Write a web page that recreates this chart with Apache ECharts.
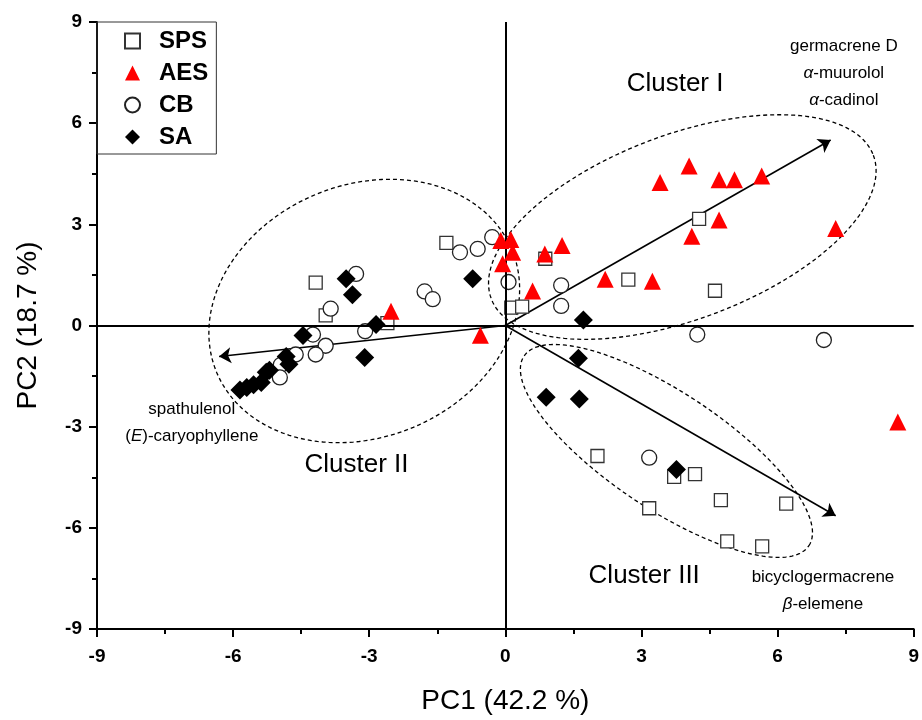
<!DOCTYPE html>
<html>
<head>
<meta charset="utf-8">
<script src="https://cdn.jsdelivr.net/npm/echarts@6/dist/echarts.min.js"></script>
<style>html,body{margin:0;padding:0;background:#fff}#main{width:922px;height:720px}</style>
</head>
<body>
<div id="main"></div>
<script>
let sps = [[-1.30,2.45],[-4.18,1.27],[-3.96,0.30],[-2.60,0.07],[0.88,1.98],[0.13,0.53],[0.37,0.56],[2.71,1.36],[4.62,1.03],[4.27,3.16],
    [2.03,-3.87],[3.72,-4.49],[4.18,-4.41],[3.17,-5.42],[4.75,-5.18],[6.19,-5.28],[4.89,-6.40],[5.66,-6.55]];
let aes = [[4.05,4.73],[3.41,4.24],[4.71,4.32],[5.05,4.32],[5.65,4.43],[4.71,3.13],[4.11,2.65],[7.28,2.88],[1.25,2.37],[2.20,1.37],
    [3.24,1.31],[0.12,2.55],[-0.10,2.52],[0.16,2.17],[-0.06,1.83],[0.87,2.12],[0.60,1.02],[-0.55,-0.29],[-2.52,0.42],[8.65,-2.86]];
let cb = [[-3.29,1.53],[-3.85,0.50],[-4.24,-0.27],[-3.96,-0.60],[-4.18,-0.86],[-3.09,-0.17],[-4.62,-0.86],[-4.95,-1.17],[-4.97,-1.54],
    [-1.78,1.01],[-1.60,0.78],[-1.00,2.17],[-0.61,2.27],[-0.29,2.62],[0.07,1.29],[1.23,1.19],[1.23,0.58],[4.23,-0.27],[7.02,-0.43],[3.17,-3.92]];
let sa = [[-3.51,1.39],[-3.37,0.91],[-2.85,0.03],[-3.10,-0.95],[-4.46,-0.30],[-4.83,-0.92],[-4.77,-1.15],[-5.27,-1.39],[-5.20,-1.33],
    [-5.38,-1.69],[-5.55,-1.76],[-5.70,-1.84],[-5.85,-1.91],[-0.72,1.39],[1.72,0.16],[1.61,-0.97],[0.90,-2.13],[1.63,-2.18],[3.77,-4.27]];

// loading vectors (arrow tips)
let loadings = [[7.17,5.50],[-6.31,-0.92],[7.28,-5.64]];

// cluster ellipses: centre, major half-axis vector, minor half-axis vector (data units)
let ellipseCenters = [[3.90,2.92],[-3.11,0.43],[3.55,-3.72]];
let ellipseMajor = [[4.21,2.13],[3.25,1.83],[3.14,-2.81]];
let ellipseMinor = [[0.72,-2.56],[1.08,-3.45],[0.71,1.44]];

let clusterNames = ['Cluster I','Cluster II','Cluster III'];
let clusterPos = [[3.74,7.16],[-3.28,-4.12],[3.06,-7.42]];
let loadingText = [
    '{n|germacrene D}\n{i|α}{n|-muurolol}\n{i|α}{n|-cadinol}',
    '{n|spathulenol}\n{n|(}{i|E}{n|)-caryophyllene}',
    '{n|bicyclogermacrene}\n{i|β}{n|-elemene}'
];
let loadingTextPos = [[7.46,7.49],[-6.91,-2.88],[7.00,-7.86]];

let font = 'Liberation Sans, Arial, sans-serif';
let myChart = echarts.init(document.getElementById('main'));

let annotations = [];
clusterNames.forEach(function (name, i) {
    annotations.push({ value: clusterPos[i], label: { formatter: '{c|' + name + '}' } });
});
loadingText.forEach(function (t, i) {
    annotations.push({ value: loadingTextPos[i], label: { formatter: t } });
});

let axisCommon = {
    min: -9,
    max: 9,
    interval: 3,
    axisLine: { onZero: false, lineStyle: { color: '#000', width: 2 } },
    axisTick: { inside: false, length: 8, lineStyle: { color: '#000', width: 2 } },
    minorTick: { show: true, splitNumber: 2, length: 5, lineStyle: { color: '#000', width: 2 } },
    splitLine: { show: false },
    axisLabel: { color: '#000', fontFamily: font, fontWeight: 'bold', fontSize: 19 },
    nameLocation: 'middle',
    nameTextStyle: { color: '#000', fontFamily: font, fontSize: 28 }
};

let option = {
    animation: false,
    grid: { left: 97, right: 7, top: 22, bottom: 88 },
    legend: {
        data: ['SPS', 'AES', 'CB', 'SA'],
        orient: 'vertical',
        left: 97,
        top: 22,
        padding: [7, 8, 5, 27],
        itemGap: 8,
        itemWidth: 15,
        itemHeight: 15,
        borderColor: '#333',
        borderWidth: 1,
        textStyle: { color: '#000', fontFamily: font, fontWeight: 'bold', fontSize: 24, padding: [0, 0, 0, 14] }
    },
    xAxis: Object.assign({}, axisCommon, {
        type: 'value',
        name: 'PC1 (42.2 %)',
        nameGap: 58,
        axisLabel: Object.assign({}, axisCommon.axisLabel, { margin: 18 })
    }),
    yAxis: Object.assign({}, axisCommon, {
        type: 'value',
        name: 'PC2 (18.7 %)',
        nameGap: 55,
        axisLabel: Object.assign({}, axisCommon.axisLabel, { margin: 15 })
    }),
    series: [
        {
            type: 'custom',
            silent: true,
            z: 1,
            renderItem: function (params, api) {
                let i = params.dataIndex;
                let c = ellipseCenters[i], u = ellipseMajor[i], v = ellipseMinor[i];
                let pts = [];
                for (let k = 0; k <= 160; k++) {
                    let t = k / 160 * 2 * Math.PI;
                    pts.push(api.coord([c[0] + u[0] * Math.cos(t) + v[0] * Math.sin(t),
                        c[1] + u[1] * Math.cos(t) + v[1] * Math.sin(t)]));
                }
                return {
                    type: 'polygon',
                    shape: { points: pts },
                    style: { fill: 'none', stroke: '#000', lineWidth: 1.3, lineDash: [4, 3] }
                };
            },
            data: ellipseCenters
        },
        {
            type: 'lines',
            coordinateSystem: 'cartesian2d',
            silent: true,
            z: 2,
            symbol: ['none', 'arrow'],
            symbolSize: [8, 12],
            lineStyle: { color: '#000', width: 1.6, opacity: 1 },
            data: loadings.map(function (p) { return { coords: [[0, 0], p] }; }),
            markLine: {
                silent: true,
                symbol: 'none',
                label: { show: false },
                lineStyle: { color: '#000', width: 2, type: 'solid' },
                data: [{ xAxis: 0 }, { yAxis: 0 }]
            }
        },
        {
            name: 'SPS',
            type: 'scatter',
            symbol: 'rect',
            symbolSize: 13,
            z: 3,
            itemStyle: { color: '#fff', borderColor: '#333', borderWidth: 1.3, opacity: 1 },
            data: sps
        },
        {
            name: 'CB',
            type: 'scatter',
            symbol: 'circle',
            symbolSize: 15,
            z: 4,
            itemStyle: { color: '#fff', borderColor: '#222', borderWidth: 1.3, opacity: 1 },
            data: cb
        },
        {
            name: 'AES',
            type: 'scatter',
            symbol: 'triangle',
            symbolSize: 17,
            z: 5,
            itemStyle: { color: '#ff0000', opacity: 1 },
            data: aes
        },
        {
            name: 'SA',
            type: 'scatter',
            symbol: 'diamond',
            symbolSize: 19,
            z: 6,
            itemStyle: { color: '#000', opacity: 1 },
            data: sa
        },
        {
            type: 'scatter',
            silent: true,
            z: 7,
            symbol: 'circle',
            symbolSize: 0,
            itemStyle: { color: '#000', opacity: 1 },
            label: {
                show: true,
                position: [0, 0],
                align: 'center',
                verticalAlign: 'middle',
                color: '#000',
                opacity: 1,
                fontFamily: font,
                fontSize: 17,
                rich: {
                    c: { fontFamily: font, fontSize: 26, color: '#000' },
                    n: { fontFamily: font, fontSize: 17, color: '#000', lineHeight: 27 },
                    i: { fontFamily: font, fontSize: 17, color: '#000', fontStyle: 'italic', lineHeight: 27 }
                }
            },
            data: annotations
        }
    ]
};

myChart.setOption(option);
</script>
</body>
</html>
